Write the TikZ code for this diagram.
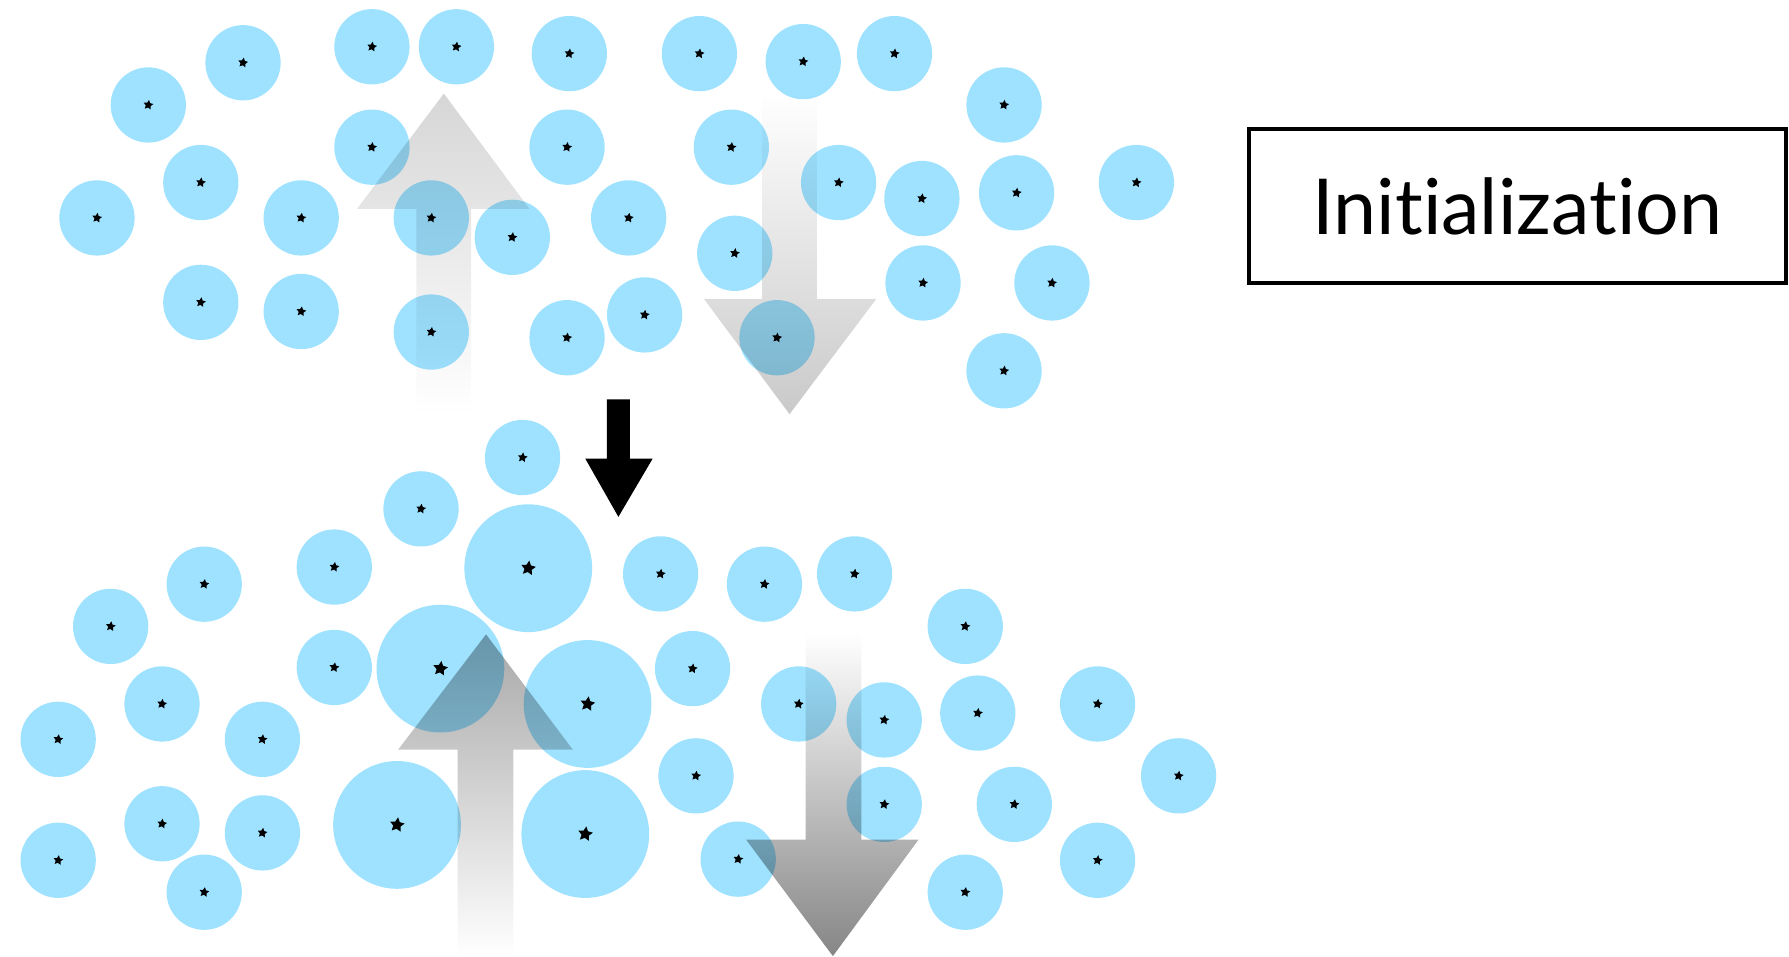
\documentclass[tikz,border=0pt]{standalone}
\usepackage{fontspec}
\setmainfont[Ligatures={NoCommon}]{Lato}
\usetikzlibrary{shapes.geometric}

\definecolor{particle}{RGB}{158,226,255}

\tikzset{
  blob/.style={circle,fill=particle,blend mode=multiply,minimum size=1.32cm,inner sep=0pt},
  bigblob/.style={blob,minimum size=2.24cm},
  core/.style={star,star points=5,star point ratio=2,fill=black,inner sep=0pt,minimum size=1.8mm,rotate=-8},
  bigcore/.style={core,minimum size=2.7mm},
}

\begin{document}
\begin{tikzpicture}[x=0.02cm,y=-0.02cm]

\useasboundingbox (0,0) rectangle (1568,838);

% forces before the update
\shade[top color=gray!32,bottom color=white]
  (389,82) -- (464,183) -- (413,183) -- (413,363) -- (365,363) -- (365,183) -- (313,183) -- cycle;
\shade[top color=white,bottom color=gray!42]
  (668,80) -- (716,80) -- (716,262) -- (768,262) -- (692,363) -- (617,262) -- (668,262) -- cycle;

% forces after the update
\shade[top color=gray!68,bottom color=white]
  (426,556) -- (502,657) -- (450,657) -- (450,838) -- (401,838) -- (401,657) -- (349,657) -- cycle;
\shade[top color=white,bottom color=gray!95]
  (706,555) -- (755,555) -- (755,736) -- (805,736) -- (730,838) -- (654,736) -- (706,736) -- cycle;

% step between the two states
\fill (532,350) -- (552,350) -- (552,402) -- (572,402) -- (542,453) -- (513,402) -- (532,402) -- cycle;

\foreach \x/\y [count=\i] in {213/55,326/41,400/41,499/47,613/47,704/54,784/47,130/92,
  880/92,326/129,497/129,641/129,176/160,735/160,808/174,891/169,996/160,85/191,
  264/191,378/191,449/208,551/191,644/222,809/248,922/248,176/265,264/273,378/291,
  497/296,565/276,681/296,880/325}{
  \node[blob] (t\i) at (\x,\y) {};
  \node[core] (ts\i) at (t\i) {};
}

\foreach \x/\y [count=\i] in {458/401,369/446,293/497,179/512,97/549,579/503,670/512,
  749/503,846/549,293/585,607/586,142/617,51/648,230/648,700/617,775/631,857/625,
  962/617,610/680,1033/680,889/705,775/705,51/754,142/722,230/730,179/782,647/753,
  846/782,962/754}{
  \node[blob] (b\i) at (\x,\y) {};
  \node[core] (bs\i) at (b\i) {};
}

\foreach \x/\y [count=\i] in {463/498,386/586,515/617,348/723,513/731}{
  \node[bigblob] (g\i) at (\x,\y) {};
  \node[bigcore] (gs\i) at (g\i) {};
}

\node[draw,line width=2pt,minimum width=9.4cm,minimum height=2.7cm,
  font=\fontsize{38.5}{46}\selectfont] (init) at (1330,180.5) {Initialization};

\end{tikzpicture}
\end{document}
